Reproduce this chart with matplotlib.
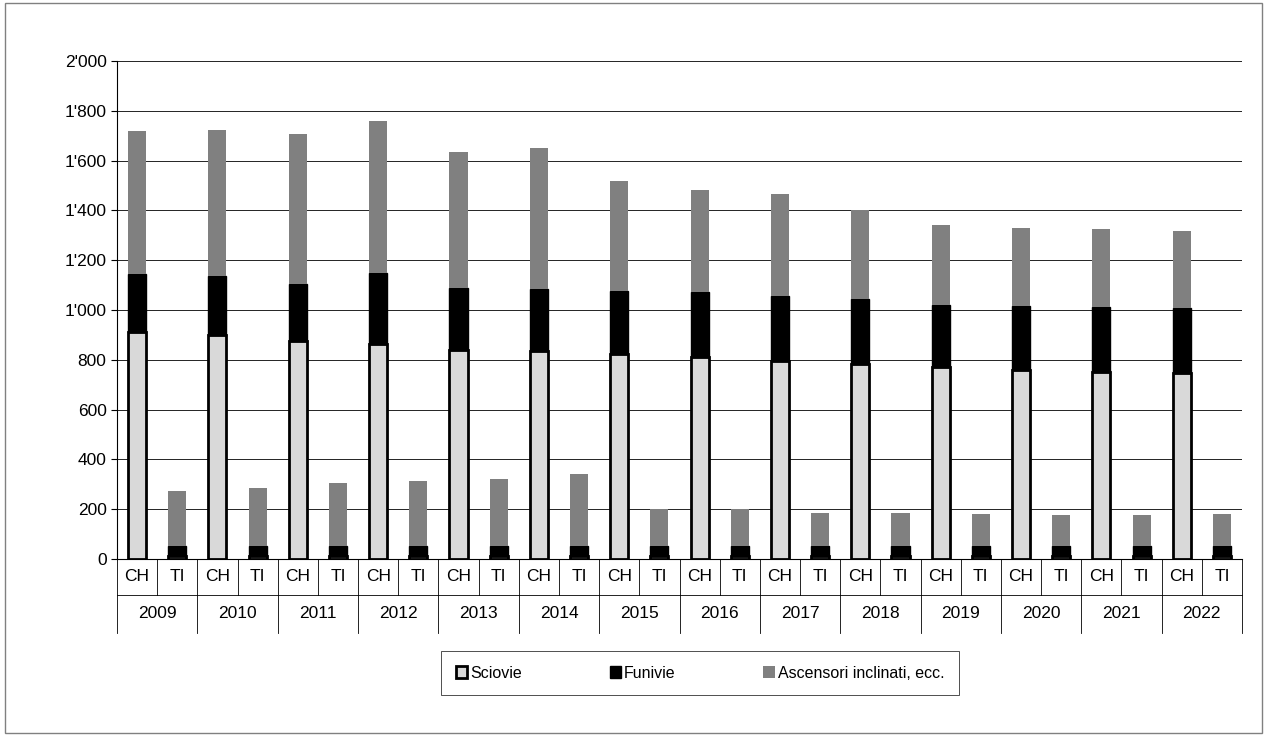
import numpy as np
import matplotlib.pyplot as plt
from matplotlib.ticker import FuncFormatter

plt.rcParams['font.family'] = ['Liberation Sans', 'DejaVu Sans']

years = [str(y) for y in range(2009, 2023)]
groups = ['CH', 'TI']

ch_sciovie = [910, 900, 875, 865, 840, 835, 822, 810, 797, 782, 770, 760, 752, 748]
ch_funivie = [235, 237, 230, 283, 247, 248, 253, 262, 258, 261, 250, 257, 260, 259]
ch_ascens = [575, 585, 603, 612, 548, 567, 442, 411, 410, 357, 323, 313, 313, 309]
ti_sciovie = [12, 12, 12, 12, 12, 12, 12, 12, 12, 12, 12, 12, 12, 12]
ti_funivie = [40, 40, 42, 40, 40, 42, 42, 42, 40, 42, 42, 40, 40, 40]
ti_ascens = [221, 235, 250, 263, 270, 286, 146, 146, 133, 129, 127, 126, 126, 128]

sciovie, funivie, ascens = [], [], []
for i in range(len(years)):
    sciovie += [ch_sciovie[i], ti_sciovie[i]]
    funivie += [ch_funivie[i], ti_funivie[i]]
    ascens += [ch_ascens[i], ti_ascens[i]]
sciovie, funivie, ascens = map(np.array, (sciovie, funivie, ascens))
x = np.arange(len(sciovie))

fig = plt.figure(figsize=(12.67, 7.36), dpi=100)
fig.patches.append(plt.Rectangle((0.004, 0.004), 0.992, 0.992, transform=fig.transFigure,
                                 fill=False, edgecolor='#808080', lw=1))
ax = fig.add_axes([117/1267, 1-559/736, (1242-117)/1267, (559-61)/736])

w = 0.45
ax.bar(x, sciovie, w, color='#d9d9d9', edgecolor='black', lw=2, label='Sciovie', zorder=3)
ax.bar(x, funivie, w, bottom=sciovie, color='black', edgecolor='black', lw=1, label='Funivie', zorder=3)
ax.bar(x, ascens, w, bottom=sciovie + funivie, color='#808080', label='Ascensori inclinati, ecc.', zorder=3)

ax.set_ylim(0, 2000)
ax.set_xlim(-0.5, len(x) - 0.5)
ax.set_yticks(range(0, 2001, 200))
ax.yaxis.set_major_formatter(FuncFormatter(lambda v, p: f"{int(v):,}".replace(',', "'")))
ax.grid(axis='y', color='black', lw=0.6, zorder=0)
for s in ['top', 'right']:
    ax.spines[s].set_visible(False)
ax.tick_params(axis='y', labelsize=12.5, length=4, direction='out')
ax.set_xticks([])

tr = ax.get_xaxis_transform()
ax.plot([-0.5, len(x) - 0.5], [-0.072, -0.072], transform=tr, color='black', lw=0.6, clip_on=False)
for i in range(len(x)):
    ax.text(i, -0.036, groups[i % 2], transform=tr, ha='center', va='center', fontsize=12.5)
for i in range(len(x) + 1):
    bottom = -0.149 if i % 2 == 0 else -0.072
    ax.plot([i - 0.5, i - 0.5], [0, bottom], transform=tr, color='black', lw=0.6, clip_on=False)
for j, yr in enumerate(years):
    ax.text(2 * j + 0.5, -0.11, yr, transform=tr, ha='center', va='center', fontsize=12.5)

leg = fig.legend(loc='center', bbox_to_anchor=(700/1267, 1-673/736), ncol=3, frameon=True,
                 fancybox=False, edgecolor='black', fontsize=11.5, handlelength=0.7,
                 handleheight=0.7, handletextpad=0.2, columnspacing=5.5,
                 borderpad=0.9, borderaxespad=0)
leg.get_frame().set_linewidth(0.6)
leg.get_frame().set_boxstyle('square', pad=0)

fig.savefig('out.png')
